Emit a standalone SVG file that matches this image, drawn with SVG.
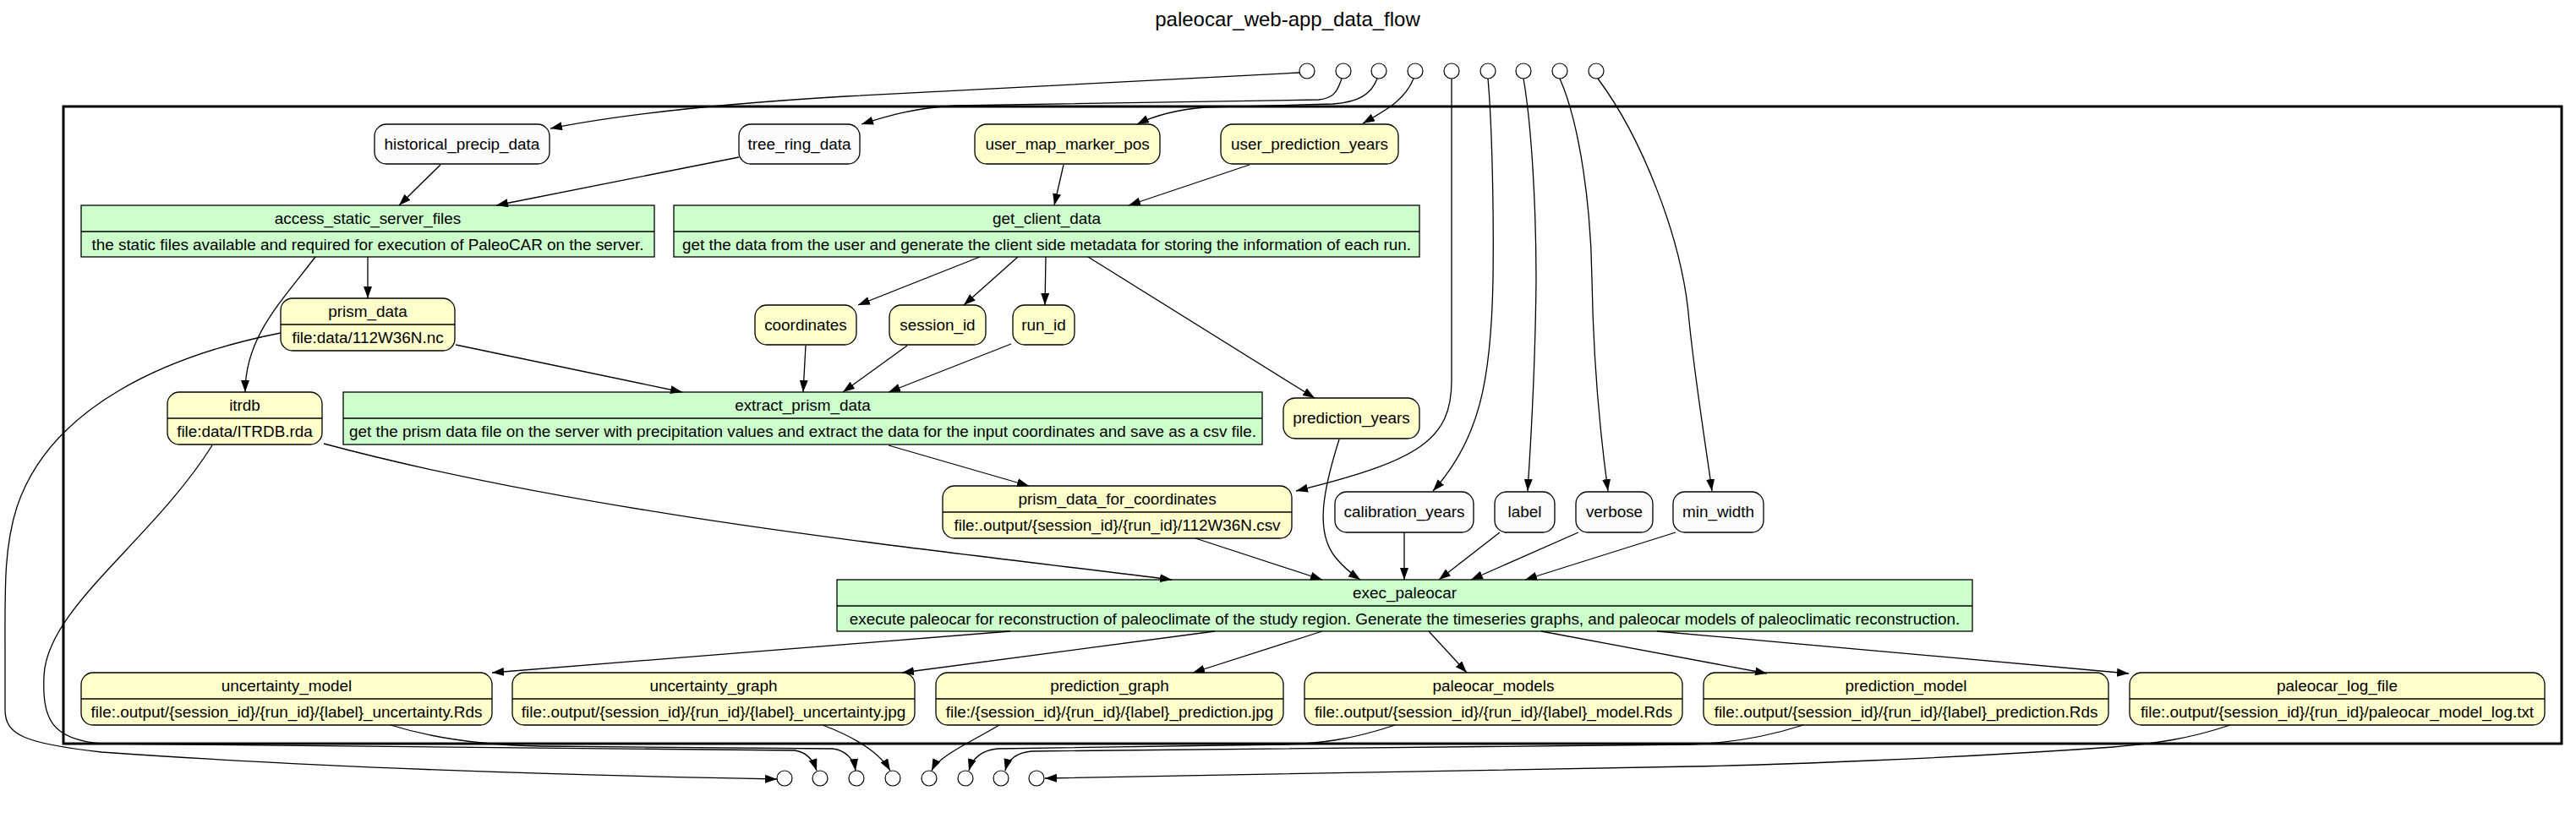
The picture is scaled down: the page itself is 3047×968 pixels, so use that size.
<svg xmlns="http://www.w3.org/2000/svg" width="3047" height="968" viewBox="0 0 3047 968">
<style>
text{font-family:"Liberation Sans",Arial,Helvetica,sans-serif;font-size:18.9px;fill:#000;text-anchor:middle}
.title{font-size:24px}
.y{fill:#FFFFCC;stroke:#000;stroke-width:1.3}
.g{fill:#CCFFCC;stroke:#000;stroke-width:1.3}
.w{fill:#FCFCFC;stroke:#000;stroke-width:1.3}
.div{stroke:#000;stroke-width:1.3}
.port{fill:#fff;stroke:#000;stroke-width:1.2}
.e{fill:none;stroke:#000;stroke-width:1.3;marker-end:url(#ah)}
</style>
<defs>
<marker id="ah" markerWidth="14" markerHeight="10" refX="14" refY="5" orient="auto" markerUnits="userSpaceOnUse"><path d="M0,0 L14,5 L0,10 z" fill="#000"/></marker>
</defs>
<rect width="3047" height="968" fill="#fff"/>
<text class="title" x="1523" y="31">paleocar_web-app_data_flow</text>
<rect x="75" y="126" width="2955" height="754" fill="none" stroke="#000" stroke-width="3"/>

<g id="inputs">
<circle class="port" cx="1546" cy="84" r="9"/>
<circle class="port" cx="1589" cy="84" r="9"/>
<circle class="port" cx="1631" cy="84" r="9"/>
<circle class="port" cx="1674" cy="84" r="9"/>
<circle class="port" cx="1717" cy="84" r="9"/>
<circle class="port" cx="1760" cy="84" r="9"/>
<circle class="port" cx="1802" cy="84" r="9"/>
<circle class="port" cx="1845" cy="84" r="9"/>
<circle class="port" cx="1888" cy="84" r="9"/>
</g>
<g id="outputs">
<circle class="port" cx="928" cy="921" r="9"/>
<circle class="port" cx="970" cy="921" r="9"/>
<circle class="port" cx="1013" cy="921" r="9"/>
<circle class="port" cx="1056" cy="921" r="9"/>
<circle class="port" cx="1099" cy="921" r="9"/>
<circle class="port" cx="1142" cy="921" r="9"/>
<circle class="port" cx="1184" cy="921" r="9"/>
<circle class="port" cx="1226" cy="921" r="9"/>
</g>

<g id="historical_precip_data"><rect class="w" x="443" y="147" width="207" height="47" rx="14"/><text x="546.5" y="177">historical_precip_data</text></g>
<g id="tree_ring_data"><rect class="w" x="874" y="147" width="143" height="47" rx="14"/><text x="945.5" y="177">tree_ring_data</text></g>
<g id="user_map_marker_pos"><rect class="y" x="1153" y="147" width="219" height="47" rx="14"/><text x="1262.5" y="177">user_map_marker_pos</text></g>
<g id="user_prediction_years"><rect class="y" x="1444" y="147" width="210" height="47" rx="14"/><text x="1549" y="177">user_prediction_years</text></g>

<g id="access_static_server_files"><rect class="g" x="96" y="243" width="678" height="61"/><line class="div" x1="96" y1="274" x2="774" y2="274"/><text x="435" y="265">access_static_server_files</text><text x="435" y="296">the static files available and required for execution of PaleoCAR on the server.</text></g>
<g id="get_client_data"><rect class="g" x="797" y="243" width="882" height="61"/><line class="div" x1="797" y1="274" x2="1679" y2="274"/><text x="1238" y="265">get_client_data</text><text x="1238" y="296">get the data from the user and generate the client side metadata for storing the information of each run.</text></g>

<g id="prism_data"><rect class="y" x="332" y="353" width="206" height="62" rx="14"/><line class="div" x1="332" y1="384" x2="538" y2="384"/><text x="435" y="375">prism_data</text><text x="435" y="406">file:data/112W36N.nc</text></g>
<g id="coordinates"><rect class="y" x="893" y="361" width="120" height="47" rx="14"/><text x="953" y="391">coordinates</text></g>
<g id="session_id"><rect class="y" x="1052" y="361" width="114" height="47" rx="14"/><text x="1109" y="391">session_id</text></g>
<g id="run_id"><rect class="y" x="1198" y="361" width="73" height="47" rx="14"/><text x="1234.5" y="391">run_id</text></g>

<g id="itrdb"><rect class="y" x="198" y="464" width="183" height="62" rx="14"/><line class="div" x1="198" y1="495" x2="381" y2="495"/><text x="289.5" y="486">itrdb</text><text x="289.5" y="517">file:data/ITRDB.rda</text></g>
<g id="extract_prism_data"><rect class="g" x="406" y="464" width="1087" height="62"/><line class="div" x1="406" y1="495" x2="1493" y2="495"/><text x="949.5" y="486">extract_prism_data</text><text x="949.5" y="517">get the prism data file on the server with precipitation values and extract the data for the input coordinates and save as a csv file.</text></g>
<g id="prediction_years"><rect class="y" x="1518" y="471" width="161" height="48" rx="14"/><text x="1598.5" y="501">prediction_years</text></g>

<g id="prism_data_for_coordinates"><rect class="y" x="1115" y="575" width="413" height="62" rx="14"/><line class="div" x1="1115" y1="606" x2="1528" y2="606"/><text x="1321.5" y="597">prism_data_for_coordinates</text><text x="1321.5" y="628">file:.output/{session_id}/{run_id}/112W36N.csv</text></g>
<g id="calibration_years"><rect class="w" x="1579" y="582" width="164" height="48" rx="14"/><text x="1661" y="612">calibration_years</text></g>
<g id="label"><rect class="w" x="1768" y="582" width="71" height="48" rx="14"/><text x="1803.5" y="612">label</text></g>
<g id="verbose"><rect class="w" x="1864" y="582" width="91" height="48" rx="14"/><text x="1909.5" y="612">verbose</text></g>
<g id="min_width"><rect class="w" x="1979" y="582" width="107" height="48" rx="14"/><text x="2032.5" y="612">min_width</text></g>

<g id="exec_paleocar"><rect class="g" x="990" y="686" width="1343" height="61"/><line class="div" x1="990" y1="717" x2="2333" y2="717"/><text x="1661.5" y="708">exec_paleocar</text><text x="1661.5" y="739">execute paleocar for reconstruction of paleoclimate of the study region. Generate the timeseries graphs, and paleocar models of paleoclimatic reconstruction.</text></g>

<g id="uncertainty_model"><rect class="y" x="96" y="796" width="486" height="62" rx="14"/><line class="div" x1="96" y1="827" x2="582" y2="827"/><text x="339" y="818">uncertainty_model</text><text x="339" y="849">file:.output/{session_id}/{run_id}/{label}_uncertainty.Rds</text></g>
<g id="uncertainty_graph"><rect class="y" x="606" y="796" width="476" height="62" rx="14"/><line class="div" x1="606" y1="827" x2="1082" y2="827"/><text x="844" y="818">uncertainty_graph</text><text x="844" y="849">file:.output/{session_id}/{run_id}/{label}_uncertainty.jpg</text></g>
<g id="prediction_graph"><rect class="y" x="1107" y="796" width="411" height="62" rx="14"/><line class="div" x1="1107" y1="827" x2="1518" y2="827"/><text x="1312.5" y="818">prediction_graph</text><text x="1312.5" y="849">file:/{session_id}/{run_id}/{label}_prediction.jpg</text></g>
<g id="paleocar_models"><rect class="y" x="1543" y="796" width="447" height="62" rx="14"/><line class="div" x1="1543" y1="827" x2="1990" y2="827"/><text x="1766.5" y="818">paleocar_models</text><text x="1766.5" y="849">file:.output/{session_id}/{run_id}/{label}_model.Rds</text></g>
<g id="prediction_model"><rect class="y" x="2015" y="796" width="479" height="62" rx="14"/><line class="div" x1="2015" y1="827" x2="2494" y2="827"/><text x="2254.5" y="818">prediction_model</text><text x="2254.5" y="849">file:.output/{session_id}/{run_id}/{label}_prediction.Rds</text></g>
<g id="paleocar_log_file"><rect class="y" x="2519" y="796" width="491" height="62" rx="14"/><line class="div" x1="2519" y1="827" x2="3010" y2="827"/><text x="2764.5" y="818">paleocar_log_file</text><text x="2764.5" y="849">file:.output/{session_id}/{run_id}/paleocar_model_log.txt</text></g>

<g id="connectors">
<path class="e" d="M1537,86 L1000,114 C900,120 760,130 651,152"/>
<path class="e" d="M1587,93 C1582,108 1578,116 1560,118 L1130,125 C1080,128 1050,137 1019,147"/>
<path class="e" d="M1629,93 C1622,112 1606,121 1577,123 L1425,127 C1390,130 1365,137 1345,147"/>
<path class="e" d="M1672,93 C1662,118 1640,130 1612,146"/>
<path class="e" d="M1717,93 L1717,450 C1717,520 1680,545 1533,581"/>
<path class="e" d="M1760,93 C1765,150 1767,250 1766,330 C1764,450 1750,520 1695,581"/>
<path class="e" d="M1802,93 C1812,150 1817,250 1817,330 C1816,450 1810,530 1807,581"/>
<path class="e" d="M1845,93 C1870,150 1882,250 1883,330 C1885,450 1895,530 1902,581"/>
<path class="e" d="M1890,93 C1940,160 1990,280 1998,380 C2005,450 2018,530 2025,581"/>

<path class="e" d="M521,195 L472,243"/>
<path class="e" d="M874,186 L587,243"/>
<path class="e" d="M1258,195 L1247,243"/>
<path class="e" d="M1478,195 L1335,243"/>
<path class="e" d="M435,304 L435,353"/>
<path class="e" d="M373,304 C330,360 290,400 290,464"/>
<path class="e" d="M1159,304 L1015,361"/>
<path class="e" d="M1204,304 L1140,361"/>
<path class="e" d="M1237,304 L1236,361"/>
<path class="e" d="M1287,304 L1555,471"/>
<path class="e" d="M953,409 L950,464"/>
<path class="e" d="M1073,409 L997,464"/>
<path class="e" d="M1196,407 L1051,464"/>
<path class="e" d="M539,408 L807,464"/>
<path class="e" d="M332,394 C200,420 60,480 20,600 C4,650 6,700 6,780 L6,840 C6,870 30,880 120,890 C400,910 700,918 919,922"/>
<path class="e" d="M251,527 C180,640 55,720 52,800 C50,850 60,875 120,880 L940,888 C955,890 962,900 966,912"/>
<path class="e" d="M1051,527 L1217,575"/>
<path class="e" d="M383,525 C700,610 1100,650 1386,686"/>
<path class="e" d="M1414,637 L1564,686"/>
<path class="e" d="M1584,520 C1565,580 1555,630 1580,660 C1590,672 1600,680 1609,686"/>
<path class="e" d="M1661,630 L1661,686"/>
<path class="e" d="M1774,630 L1702,686"/>
<path class="e" d="M1867,630 L1740,686"/>
<path class="e" d="M1982,630 L1804,686"/>
<path class="e" d="M1195,747 L582,796"/>
<path class="e" d="M1437,747 L1067,796"/>
<path class="e" d="M1564,747 L1411,796"/>
<path class="e" d="M1690,747 L1735,796"/>
<path class="e" d="M1823,747 L2090,797"/>
<path class="e" d="M1960,747 L2518,797"/>

<path class="e" d="M462,858 C520,876 580,882 640,883 L985,886 C1000,888 1010,898 1012,912"/>
<path class="e" d="M973,858 C1010,872 1040,890 1053,912"/>
<path class="e" d="M1182,858 C1145,880 1110,895 1102,912"/>
<path class="e" d="M1650,858 C1600,875 1560,880 1520,881 L1180,886 C1160,888 1150,898 1146,912"/>
<path class="e" d="M2133,858 C2080,875 2030,880 2000,881 L1220,889 C1200,891 1192,900 1189,912"/>
<path class="e" d="M2638,858 C2590,874 2550,880 2500,884 C2300,898 2100,905 2000,907 L1236,921"/>
</g>
</svg>
